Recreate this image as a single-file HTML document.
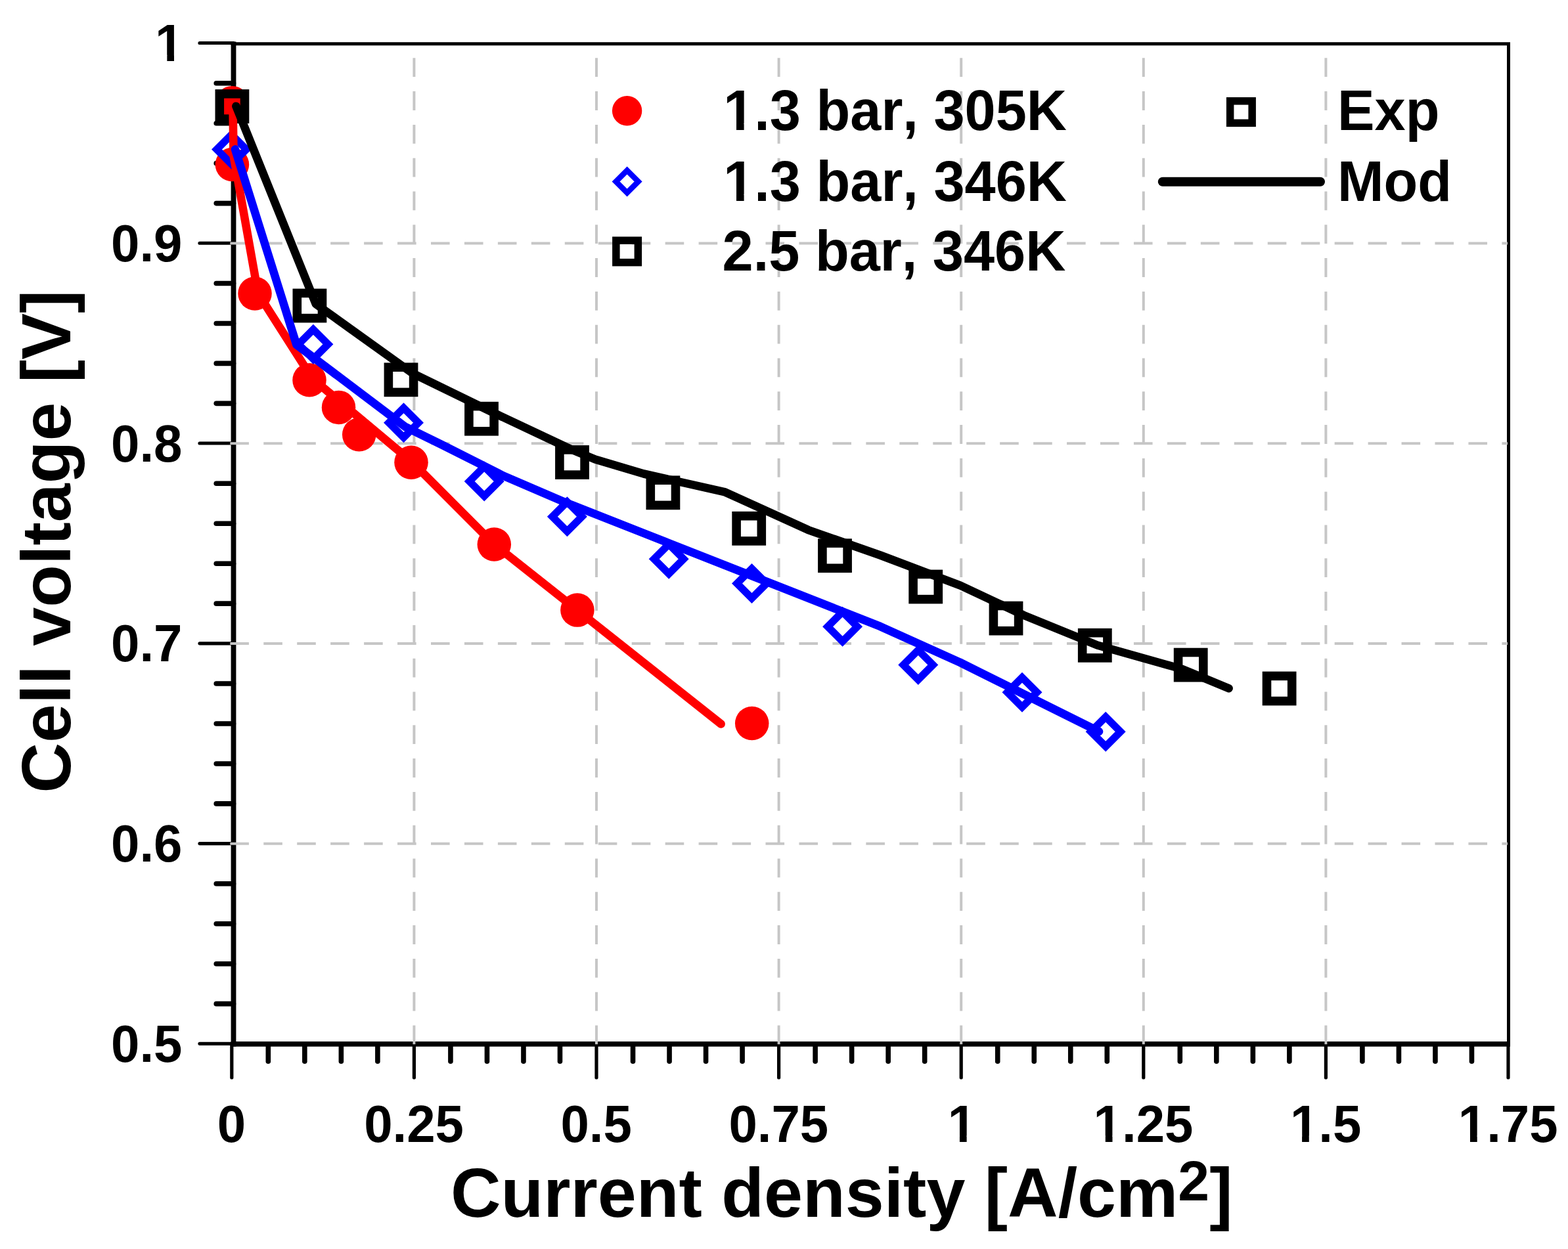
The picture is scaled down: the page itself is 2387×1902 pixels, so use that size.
<!DOCTYPE html>
<html lang="en">
<head>
<meta charset="utf-8">
<title>Cell voltage vs current density</title>
<style>
html,body{margin:0;padding:0;background:#fff;}
body{width:2387px;height:1902px;overflow:hidden;}
svg{display:block;}
</style>
</head>
<body>
<svg xmlns="http://www.w3.org/2000/svg" width="2387" height="1902" viewBox="0 0 2387 1902">
<rect x="0" y="0" width="2387" height="1902" fill="#ffffff"/>
<filter id="soft" filterUnits="userSpaceOnUse" x="0" y="0" width="2387" height="1902" color-interpolation-filters="sRGB"><feGaussianBlur stdDeviation="0.5"/></filter>
<g filter="url(#soft)">
<rect x="-10" y="-10" width="2407" height="1922" fill="#ffffff"/>
<g stroke="#000" fill="none" stroke-linecap="butt">
<line x1="351.60" y1="66.70" x2="2299.00" y2="66.70" stroke-width="5.0"/>
<line x1="2296.50" y1="66.70" x2="2296.50" y2="1589.80" stroke-width="5.0"/>
<line x1="355.50" y1="63.60" x2="355.50" y2="1593.70" stroke-width="7.8"/>
<line x1="351.60" y1="1589.80" x2="2299.00" y2="1589.80" stroke-width="7.8"/>
</g>
<g stroke="#000" fill="none" stroke-linecap="round">
<line x1="352.80" y1="1589.80" x2="352.80" y2="1641.00" stroke-width="5.2"/>
<line x1="630.40" y1="1589.80" x2="630.40" y2="1641.00" stroke-width="5.2"/>
<line x1="908.00" y1="1589.80" x2="908.00" y2="1641.00" stroke-width="5.2"/>
<line x1="1185.60" y1="1589.80" x2="1185.60" y2="1641.00" stroke-width="5.2"/>
<line x1="1463.20" y1="1589.80" x2="1463.20" y2="1641.00" stroke-width="5.2"/>
<line x1="1740.80" y1="1589.80" x2="1740.80" y2="1641.00" stroke-width="5.2"/>
<line x1="2018.40" y1="1589.80" x2="2018.40" y2="1641.00" stroke-width="5.2"/>
<line x1="2296.00" y1="1589.80" x2="2296.00" y2="1641.00" stroke-width="5.2"/>
<line x1="408.32" y1="1589.80" x2="408.32" y2="1616.30" stroke-width="7.6"/>
<line x1="463.84" y1="1589.80" x2="463.84" y2="1616.30" stroke-width="7.6"/>
<line x1="519.36" y1="1589.80" x2="519.36" y2="1616.30" stroke-width="7.6"/>
<line x1="574.88" y1="1589.80" x2="574.88" y2="1616.30" stroke-width="7.6"/>
<line x1="685.92" y1="1589.80" x2="685.92" y2="1616.30" stroke-width="7.6"/>
<line x1="741.44" y1="1589.80" x2="741.44" y2="1616.30" stroke-width="7.6"/>
<line x1="796.96" y1="1589.80" x2="796.96" y2="1616.30" stroke-width="7.6"/>
<line x1="852.48" y1="1589.80" x2="852.48" y2="1616.30" stroke-width="7.6"/>
<line x1="963.52" y1="1589.80" x2="963.52" y2="1616.30" stroke-width="7.6"/>
<line x1="1019.04" y1="1589.80" x2="1019.04" y2="1616.30" stroke-width="7.6"/>
<line x1="1074.56" y1="1589.80" x2="1074.56" y2="1616.30" stroke-width="7.6"/>
<line x1="1130.08" y1="1589.80" x2="1130.08" y2="1616.30" stroke-width="7.6"/>
<line x1="1241.12" y1="1589.80" x2="1241.12" y2="1616.30" stroke-width="7.6"/>
<line x1="1296.64" y1="1589.80" x2="1296.64" y2="1616.30" stroke-width="7.6"/>
<line x1="1352.16" y1="1589.80" x2="1352.16" y2="1616.30" stroke-width="7.6"/>
<line x1="1407.68" y1="1589.80" x2="1407.68" y2="1616.30" stroke-width="7.6"/>
<line x1="1518.72" y1="1589.80" x2="1518.72" y2="1616.30" stroke-width="7.6"/>
<line x1="1574.24" y1="1589.80" x2="1574.24" y2="1616.30" stroke-width="7.6"/>
<line x1="1629.76" y1="1589.80" x2="1629.76" y2="1616.30" stroke-width="7.6"/>
<line x1="1685.28" y1="1589.80" x2="1685.28" y2="1616.30" stroke-width="7.6"/>
<line x1="1796.32" y1="1589.80" x2="1796.32" y2="1616.30" stroke-width="7.6"/>
<line x1="1851.84" y1="1589.80" x2="1851.84" y2="1616.30" stroke-width="7.6"/>
<line x1="1907.36" y1="1589.80" x2="1907.36" y2="1616.30" stroke-width="7.6"/>
<line x1="1962.88" y1="1589.80" x2="1962.88" y2="1616.30" stroke-width="7.6"/>
<line x1="2073.92" y1="1589.80" x2="2073.92" y2="1616.30" stroke-width="7.6"/>
<line x1="2129.44" y1="1589.80" x2="2129.44" y2="1616.30" stroke-width="7.6"/>
<line x1="2184.96" y1="1589.80" x2="2184.96" y2="1616.30" stroke-width="7.6"/>
<line x1="2240.48" y1="1589.80" x2="2240.48" y2="1616.30" stroke-width="7.6"/>
<line x1="304.00" y1="1589.30" x2="355.50" y2="1589.30" stroke-width="5.2"/>
<line x1="304.00" y1="1284.54" x2="355.50" y2="1284.54" stroke-width="5.2"/>
<line x1="304.00" y1="979.78" x2="355.50" y2="979.78" stroke-width="5.2"/>
<line x1="304.00" y1="675.02" x2="355.50" y2="675.02" stroke-width="5.2"/>
<line x1="304.00" y1="370.26" x2="355.50" y2="370.26" stroke-width="5.2"/>
<line x1="304.00" y1="65.50" x2="355.50" y2="65.50" stroke-width="5.2"/>
<line x1="329.20" y1="1528.65" x2="355.50" y2="1528.65" stroke-width="7.6"/>
<line x1="329.20" y1="1467.70" x2="355.50" y2="1467.70" stroke-width="7.6"/>
<line x1="329.20" y1="1406.74" x2="355.50" y2="1406.74" stroke-width="7.6"/>
<line x1="329.20" y1="1345.79" x2="355.50" y2="1345.79" stroke-width="7.6"/>
<line x1="329.20" y1="1223.89" x2="355.50" y2="1223.89" stroke-width="7.6"/>
<line x1="329.20" y1="1162.94" x2="355.50" y2="1162.94" stroke-width="7.6"/>
<line x1="329.20" y1="1101.98" x2="355.50" y2="1101.98" stroke-width="7.6"/>
<line x1="329.20" y1="1041.03" x2="355.50" y2="1041.03" stroke-width="7.6"/>
<line x1="329.20" y1="919.13" x2="355.50" y2="919.13" stroke-width="7.6"/>
<line x1="329.20" y1="858.18" x2="355.50" y2="858.18" stroke-width="7.6"/>
<line x1="329.20" y1="797.22" x2="355.50" y2="797.22" stroke-width="7.6"/>
<line x1="329.20" y1="736.27" x2="355.50" y2="736.27" stroke-width="7.6"/>
<line x1="329.20" y1="614.37" x2="355.50" y2="614.37" stroke-width="7.6"/>
<line x1="329.20" y1="553.42" x2="355.50" y2="553.42" stroke-width="7.6"/>
<line x1="329.20" y1="492.46" x2="355.50" y2="492.46" stroke-width="7.6"/>
<line x1="329.20" y1="431.51" x2="355.50" y2="431.51" stroke-width="7.6"/>
<line x1="329.20" y1="309.61" x2="355.50" y2="309.61" stroke-width="7.6"/>
<line x1="329.20" y1="248.66" x2="355.50" y2="248.66" stroke-width="7.6"/>
<line x1="329.20" y1="187.70" x2="355.50" y2="187.70" stroke-width="7.6"/>
<line x1="329.20" y1="126.75" x2="355.50" y2="126.75" stroke-width="7.6"/>
</g>
<g stroke="#c6c6c6" stroke-width="4.0" fill="none">
<line x1="630.40" y1="1590.30" x2="630.40" y2="69.20" stroke-dasharray="28.8 22"/>
<line x1="908.00" y1="1590.30" x2="908.00" y2="69.20" stroke-dasharray="28.8 22"/>
<line x1="1185.60" y1="1590.30" x2="1185.60" y2="69.20" stroke-dasharray="28.8 22"/>
<line x1="1463.20" y1="1590.30" x2="1463.20" y2="69.20" stroke-dasharray="28.8 22"/>
<line x1="1740.80" y1="1590.30" x2="1740.80" y2="69.20" stroke-dasharray="28.8 22"/>
<line x1="2018.40" y1="1590.30" x2="2018.40" y2="69.20" stroke-dasharray="28.8 22"/>
<line x1="350.30" y1="1284.84" x2="2295.00" y2="1284.84" stroke-dasharray="28.6 22.35"/>
<line x1="350.30" y1="980.08" x2="2295.00" y2="980.08" stroke-dasharray="28.6 22.35"/>
<line x1="350.30" y1="675.32" x2="2295.00" y2="675.32" stroke-dasharray="28.6 22.35"/>
<line x1="350.30" y1="370.56" x2="2295.00" y2="370.56" stroke-dasharray="28.6 22.35"/>
</g>
<circle cx="353.4" cy="156.2" r="25.30" fill="#ff0000"/>
<circle cx="353.4" cy="250.5" r="25.75" fill="#ff0000"/>
<circle cx="388.0" cy="447.0" r="25.75" fill="#ff0000"/>
<circle cx="471.0" cy="578.8" r="25.75" fill="#ff0000"/>
<circle cx="515.5" cy="620.4" r="25.75" fill="#ff0000"/>
<circle cx="546.7" cy="661.8" r="25.75" fill="#ff0000"/>
<circle cx="626.0" cy="704.2" r="25.75" fill="#ff0000"/>
<circle cx="752.3" cy="829.0" r="25.75" fill="#ff0000"/>
<circle cx="878.9" cy="929.1" r="25.75" fill="#ff0000"/>
<circle cx="1144.7" cy="1101.5" r="25.75" fill="#ff0000"/>
<polygon points="352.5,204.9 375.0,227.4 352.5,249.9 330.0,227.4" fill="none" stroke="#0000ff" stroke-width="11.3" stroke-linejoin="miter"/>
<polygon points="476.9,501.8 499.4,524.3 476.9,546.8 454.4,524.3" fill="none" stroke="#0000ff" stroke-width="11.3" stroke-linejoin="miter"/>
<polygon points="614.5,621.3 637.0,643.8 614.5,666.3 592.0,643.8" fill="none" stroke="#0000ff" stroke-width="11.3" stroke-linejoin="miter"/>
<polygon points="737.2,710.5 759.7,733.0 737.2,755.5 714.7,733.0" fill="none" stroke="#0000ff" stroke-width="11.3" stroke-linejoin="miter"/>
<polygon points="863.4,764.2 885.9,786.7 863.4,809.2 840.9,786.7" fill="none" stroke="#0000ff" stroke-width="11.3" stroke-linejoin="miter"/>
<polygon points="1018.2,828.8 1040.7,851.3 1018.2,873.8 995.7,851.3" fill="none" stroke="#0000ff" stroke-width="11.3" stroke-linejoin="miter"/>
<polygon points="1144.5,866.0 1167.0,888.5 1144.5,911.0 1122.0,888.5" fill="none" stroke="#0000ff" stroke-width="11.3" stroke-linejoin="miter"/>
<polygon points="1282.6,931.7 1305.1,954.2 1282.6,976.7 1260.1,954.2" fill="none" stroke="#0000ff" stroke-width="11.3" stroke-linejoin="miter"/>
<polygon points="1397.8,990.0 1420.3,1012.5 1397.8,1035.0 1375.3,1012.5" fill="none" stroke="#0000ff" stroke-width="11.3" stroke-linejoin="miter"/>
<polygon points="1556.0,1031.7 1578.5,1054.2 1556.0,1076.7 1533.5,1054.2" fill="none" stroke="#0000ff" stroke-width="11.3" stroke-linejoin="miter"/>
<polygon points="1683.2,1091.7 1705.7,1114.2 1683.2,1136.7 1660.7,1114.2" fill="none" stroke="#0000ff" stroke-width="11.3" stroke-linejoin="miter"/>
<rect x="334.30" y="142.90" width="38.20" height="38.20" fill="none" stroke="#000" stroke-width="13.6"/>
<rect x="452.30" y="446.40" width="38.20" height="38.20" fill="none" stroke="#000" stroke-width="13.6"/>
<rect x="591.40" y="559.20" width="38.20" height="38.20" fill="none" stroke="#000" stroke-width="13.6"/>
<rect x="713.90" y="618.60" width="38.20" height="38.20" fill="none" stroke="#000" stroke-width="13.6"/>
<rect x="851.90" y="684.90" width="38.20" height="38.20" fill="none" stroke="#000" stroke-width="13.6"/>
<rect x="990.30" y="731.20" width="38.20" height="38.20" fill="none" stroke="#000" stroke-width="13.6"/>
<rect x="1121.10" y="785.70" width="38.20" height="38.20" fill="none" stroke="#000" stroke-width="13.6"/>
<rect x="1251.90" y="827.10" width="38.20" height="38.20" fill="none" stroke="#000" stroke-width="13.6"/>
<rect x="1390.10" y="874.40" width="38.20" height="38.20" fill="none" stroke="#000" stroke-width="13.6"/>
<rect x="1512.40" y="922.50" width="38.20" height="38.20" fill="none" stroke="#000" stroke-width="13.6"/>
<rect x="1647.70" y="963.70" width="38.20" height="38.20" fill="none" stroke="#000" stroke-width="13.6"/>
<rect x="1793.60" y="993.50" width="38.20" height="38.20" fill="none" stroke="#000" stroke-width="13.6"/>
<rect x="1928.50" y="1029.40" width="38.20" height="38.20" fill="none" stroke="#000" stroke-width="13.6"/>
<polyline points="354.5,158.0 355.5,237.0 392.9,446.8 475.6,576.6 626.0,702.3 752.3,829.0 878.9,929.1 1097.6,1102.5" fill="none" stroke="#ff0000" stroke-width="12.6" stroke-linejoin="round" stroke-linecap="round"/>
<polyline points="358.0,227.4 451.4,525.0 617.0,650.0 673.1,677.5 766.2,724.5 859.3,764.5 980.0,812.0 1340.0,953.9 1462.0,1009.0 1673.0,1114.0" fill="none" stroke="#0000ff" stroke-width="12.6" stroke-linejoin="round" stroke-linecap="round"/>
<polyline points="359.4,161.7 480.8,463.0 628.0,568.5 746.0,626.0 871.0,685.0 906.0,699.5 980.0,721.5 1103.9,749.4 1230.5,807.1 1340.0,845.5 1462.0,891.6 1558.7,937.0 1670.4,982.5 1800.0,1019.0 1870.6,1048.2" fill="none" stroke="#000000" stroke-width="12.6" stroke-linejoin="round" stroke-linecap="round"/>
<circle cx="954.6" cy="168.7" r="22.70" fill="#ff0000"/>
<polygon points="954.6,259.4 971.6,276.4 954.6,293.4 937.6,276.4" fill="none" stroke="#0000ff" stroke-width="8.5" stroke-linejoin="miter"/>
<rect x="937.85" y="366.15" width="33.50" height="33.50" fill="none" stroke="#000" stroke-width="11.5"/>
<rect x="1872.65" y="153.85" width="33.50" height="33.50" fill="none" stroke="#000" stroke-width="11.5"/>
<line x1="1769.8" y1="276.7" x2="2010" y2="276.7" stroke="#000" stroke-width="14" stroke-linecap="round"/>
<defs><clipPath id="k0" clipPathUnits="userSpaceOnUse"><path clip-rule="evenodd" d="M1061.20,93.20H1884.20V241.10H1061.20ZM1104.54,187.72H1120.98V200.60H1104.54ZM1132.60,187.72H1147.97V200.60H1132.60Z"/></clipPath><clipPath id="k1" clipPathUnits="userSpaceOnUse"><path clip-rule="evenodd" d="M1061.20,201.20H1884.20V349.10H1061.20ZM1104.54,295.72H1120.98V308.60H1104.54ZM1132.60,295.72H1147.97V308.60H1132.60Z"/></clipPath><clipPath id="k2" clipPathUnits="userSpaceOnUse"><path clip-rule="evenodd" d="M196.12,-3.00H956.12V133.00H196.12ZM239.03,83.84H254.33V96.00H239.03ZM265.03,83.84H279.33V96.00H265.03Z"/></clipPath><clipPath id="k3" clipPathUnits="userSpaceOnUse"><path clip-rule="evenodd" d="M1402.71,1642.60H2162.71V1778.60H1402.71ZM1445.62,1729.44H1460.92V1741.60H1445.62ZM1471.62,1729.44H1485.92V1741.60H1471.62Z"/></clipPath><clipPath id="k4" clipPathUnits="userSpaceOnUse"><path clip-rule="evenodd" d="M1624.59,1642.60H2384.59V1778.60H1624.59ZM1667.51,1729.44H1682.80V1741.60H1667.51ZM1693.50,1729.44H1707.80V1741.60H1693.50Z"/></clipPath><clipPath id="k5" clipPathUnits="userSpaceOnUse"><path clip-rule="evenodd" d="M1923.88,1642.60H2683.88V1778.60H1923.88ZM1966.80,1729.44H1982.09V1741.60H1966.80ZM1992.79,1729.44H2007.09V1741.60H1992.79Z"/></clipPath><clipPath id="k6" clipPathUnits="userSpaceOnUse"><path clip-rule="evenodd" d="M2179.79,1642.60H2939.79V1778.60H2179.79ZM2222.71,1729.44H2238.00V1741.60H2222.71ZM2248.70,1729.44H2263.00V1741.60H2248.70Z"/></clipPath></defs>
<g font-family="'Liberation Sans', Arial, Helvetica, sans-serif" font-weight="bold" fill="#000" style="font-kerning:none">
<g clip-path="url(#k0)"><text transform="translate(1101.20,197.60) scale(0.974,1)" font-size="87px">1.3 bar, 305K</text></g>
<g clip-path="url(#k1)"><text transform="translate(1101.20,305.60) scale(0.974,1)" font-size="87px">1.3 bar, 346K</text></g>
<text transform="translate(1099.60,411.60) scale(0.974,1)" font-size="87px">2.5 bar, 346K</text>
<text transform="translate(2036.00,197.60) scale(0.974,1)" font-size="87px">Exp</text>
<text transform="translate(2036.00,305.60) scale(0.974,1)" font-size="87px">Mod</text>
<g clip-path="url(#k2)"><text transform="translate(236.12,93.00) scale(0.975,1)" font-size="80px">1</text></g>
<text transform="translate(169.07,397.76) scale(0.975,1)" font-size="80px">0.9</text>
<text transform="translate(169.07,702.52) scale(0.975,1)" font-size="80px">0.8</text>
<text transform="translate(169.07,1007.28) scale(0.975,1)" font-size="80px">0.7</text>
<text transform="translate(169.07,1312.04) scale(0.975,1)" font-size="80px">0.6</text>
<text transform="translate(169.07,1616.80) scale(0.975,1)" font-size="80px">0.5</text>
<text transform="translate(330.81,1738.60) scale(0.975,1)" font-size="80px">0</text>
<text transform="translate(554.19,1738.60) scale(0.975,1)" font-size="80px">0.25</text>
<text transform="translate(853.48,1738.60) scale(0.975,1)" font-size="80px">0.5</text>
<text transform="translate(1109.39,1738.60) scale(0.975,1)" font-size="80px">0.75</text>
<g clip-path="url(#k3)"><text transform="translate(1442.71,1738.60) scale(0.975,1)" font-size="80px">1</text></g>
<g clip-path="url(#k4)"><text transform="translate(1664.59,1738.60) scale(0.975,1)" font-size="80px">1.25</text></g>
<g clip-path="url(#k5)"><text transform="translate(1963.88,1738.60) scale(0.975,1)" font-size="80px">1.5</text></g>
<g clip-path="url(#k6)"><text transform="translate(2219.79,1738.60) scale(0.975,1)" font-size="80px">1.75</text></g>
<text x="686.0" y="1853.0" font-size="106px">Current density [A/cm<tspan dy="-25.0" font-size="86px">2</tspan><tspan dy="25.0">]</tspan></text>
<text transform="translate(107.0,1207.5) rotate(-90)" font-size="106px">Cell voltage [V]</text>
</g>
</g>
</svg>
</body>
</html>
